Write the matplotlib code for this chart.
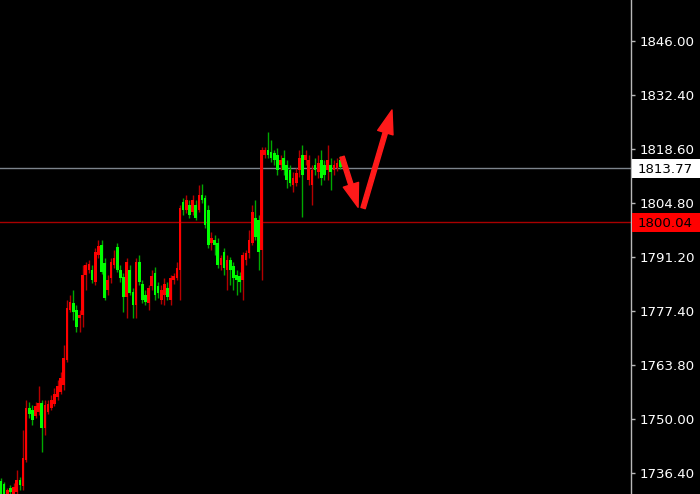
import matplotlib
matplotlib.use("Agg")
import matplotlib.pyplot as plt
from matplotlib.patches import Rectangle
from matplotlib.transforms import blended_transform_factory

# OHLC (one candle per bar, left to right)
opens = [
    1734.3, 1733.6, 1731.0, 1732.6, 1731.0, 1731.5, 1734.6, 1733.1, 1739.7, 1752.9,
    1752.3, 1750.8, 1751.8, 1754.1, 1747.8, 1751.8, 1752.9, 1753.9, 1755.6, 1756.9,
    1758.7, 1765.0, 1777.7, 1779.6, 1777.7, 1775.7, 1776.5, 1786.6, 1787.9, 1787.9,
    1784.9, 1791.7, 1794.2, 1789.7, 1782.8, 1785.9, 1789.1, 1793.7, 1787.9, 1786.1,
    1781.0, 1787.9, 1782.3, 1779.0, 1789.9, 1784.3, 1781.5, 1779.6, 1783.8, 1787.1,
    1783.8, 1780.3, 1781.5, 1783.3, 1780.3, 1785.4, 1785.9, 1787.9, 1805.1, 1803.1,
    1804.4, 1802.6, 1804.4, 1803.1, 1806.9, 1806.2, 1803.1, 1794.7, 1795.5, 1794.7,
    1789.1, 1792.5, 1787.9, 1790.4, 1788.9, 1786.6, 1786.4,
    1785.4, 1790.4, 1792.2, 1794.7, 1801.1, 1800.6, 1793.0, 1817.1, 1818.3, 1817.8,
    1817.6, 1817.1, 1814.5, 1816.3, 1814.5, 1813.3, 1809.5, 1810.0, 1813.3, 1817.1,
    1815.8, 1810.7, 1809.5, 1814.5, 1812.7, 1815.8, 1814.5, 1813.3, 1814.5, 1813.3,
    1813.8, 1815.8,
]
highs = [
    1735.1, 1734.1, 1732.6, 1733.3, 1733.8, 1737.1, 1735.3, 1747.3, 1754.9, 1754.4,
    1753.6, 1754.4, 1758.4, 1754.9, 1754.9, 1754.9, 1756.2, 1757.9, 1760.0, 1762.0,
    1768.8, 1780.3, 1781.5, 1782.8, 1779.0, 1777.7, 1789.1, 1789.9, 1790.4, 1789.1,
    1793.5, 1795.5, 1795.5, 1790.9, 1786.6, 1790.9, 1793.0, 1794.7, 1789.1, 1787.1,
    1790.9, 1789.1, 1783.3, 1790.9, 1791.7, 1785.4, 1782.8, 1784.1, 1787.9, 1788.6,
    1784.9, 1784.1, 1785.9, 1784.9, 1786.6, 1787.1, 1789.9, 1804.4, 1806.2, 1806.9,
    1805.7, 1806.9, 1805.7, 1809.5, 1809.7, 1806.9, 1804.4, 1797.5, 1796.8, 1796.0,
    1791.7, 1793.5, 1791.7, 1791.2, 1789.9, 1787.9, 1787.4,
    1792.5, 1793.0, 1798.0, 1804.4, 1805.7, 1801.8, 1819.1, 1819.1, 1822.9, 1820.9,
    1818.3, 1818.8, 1817.1, 1818.3, 1815.8, 1814.5, 1812.7, 1813.8, 1818.3, 1819.6,
    1818.3, 1817.1, 1814.5, 1816.3, 1817.1, 1818.3, 1815.8, 1819.6, 1816.3, 1815.8,
    1816.3, 1816.8,
]
lows = [
    1731.0, 1731.0, 1730.8, 1731.0, 1730.8, 1731.0, 1732.0, 1732.0, 1739.2, 1750.3,
    1748.5, 1750.3, 1751.0, 1741.7, 1746.0, 1751.3, 1752.3, 1753.4, 1754.9, 1756.4,
    1757.4, 1764.5, 1777.2, 1775.2, 1772.1, 1772.1, 1773.4, 1782.8, 1787.1, 1784.6,
    1784.1, 1790.9, 1786.9, 1780.3, 1781.5, 1784.6, 1788.4, 1787.4, 1784.9, 1777.2,
    1775.7, 1781.5, 1775.7, 1775.7, 1784.1, 1779.6, 1779.0, 1777.7, 1782.8, 1780.3,
    1780.8, 1779.3, 1779.0, 1780.3, 1779.0, 1784.3, 1785.4, 1780.3, 1801.8, 1802.3,
    1801.1, 1801.8, 1800.6, 1802.6, 1804.9, 1798.5, 1793.5, 1793.0, 1791.7, 1788.4,
    1787.9, 1786.6, 1782.8, 1784.1, 1782.8, 1781.5, 1782.3,
    1780.3, 1789.1, 1790.9, 1794.2, 1795.5, 1787.9, 1785.4, 1816.3, 1816.3, 1815.3,
    1814.5, 1812.0, 1813.3, 1812.0, 1808.7, 1809.2, 1807.7, 1809.2, 1811.5, 1801.3,
    1814.5, 1809.5, 1804.4, 1812.0, 1811.2, 1809.5, 1810.7, 1810.7, 1808.2, 1812.0,
    1813.0, 1813.5,
]
closes = [
    1731.0, 1731.0, 1732.0, 1731.5, 1732.8, 1734.6, 1733.3, 1740.2, 1752.9, 1751.3,
    1749.8, 1753.4, 1754.1, 1747.8, 1753.6, 1753.9, 1754.9, 1756.4, 1758.4, 1760.5,
    1765.5, 1778.2, 1779.8, 1777.2, 1773.4, 1776.5, 1786.6, 1789.1, 1789.4, 1785.4,
    1792.5, 1794.0, 1787.4, 1780.8, 1785.4, 1789.9, 1790.9, 1787.9, 1785.9, 1781.0,
    1789.9, 1782.0, 1779.0, 1789.9, 1784.9, 1780.3, 1779.8, 1783.3, 1786.4, 1781.5,
    1782.0, 1782.8, 1784.3, 1781.0, 1785.9, 1786.4, 1788.4, 1803.6, 1803.1, 1805.7,
    1801.8, 1805.7, 1801.1, 1806.9, 1805.7, 1799.3, 1794.2, 1796.0, 1794.2, 1789.1,
    1790.9, 1788.4, 1790.4, 1787.9, 1785.9, 1785.4, 1784.9,
    1791.7, 1792.2, 1795.5, 1802.6, 1796.3, 1792.5, 1818.3, 1818.3, 1817.1, 1816.3,
    1815.8, 1813.3, 1815.8, 1813.3, 1810.7, 1810.0, 1811.2, 1812.5, 1816.3, 1812.0,
    1817.1, 1815.8, 1813.3, 1813.3, 1815.0, 1811.2, 1812.0, 1815.8, 1812.7, 1814.5,
    1815.0, 1814.0,
]

price_ticks = [1736.40, 1750.00, 1763.80, 1777.40, 1791.20, 1804.80, 1818.60, 1832.40, 1846.00]
level_white = 1813.77
level_red = 1800.04

# hand drawn arrows: (bar index, price) start -> tip
arrow_down = ((108.6, 1816.6), (113.7, 1803.8))
arrow_up = ((115.3, 1803.6), (124.5, 1828.5))

fig = plt.figure(figsize=(7, 4.94), dpi=100, facecolor="black")
ax = fig.add_axes([0, 0, 631 / 700, 1])
ax.set_facecolor("black")

idx = list(range(len(opens)))
up = [c >= o for o, c in zip(opens, closes)]
wick_col = ["#b40000" if u else "#00a800" for u in up]
body_col = ["#ff0000" if u else "#00ff00" for u in up]

ax.vlines(idx, lows, highs, colors=wick_col, linewidth=1, zorder=2)
bottoms = [min(o, c) for o, c in zip(opens, closes)]
heights = [max(abs(c - o), 0.3) for o, c in zip(opens, closes)]
ax.bar(idx, heights, bottom=bottoms, width=0.85, color=body_col, linewidth=0, zorder=3)

ax.axhline(level_white, color="#7d848c", linewidth=1, zorder=1)
ax.axhline(level_red, color="#a80000", linewidth=1, zorder=1)

for start, tip in (arrow_down, arrow_up):
    ax.annotate("", xy=tip, xytext=start,
                arrowprops=dict(arrowstyle="simple,head_length=1.7,head_width=1.15,tail_width=0.32",
                                color="#ff1a1a", shrinkA=0, shrinkB=0, mutation_scale=10),
                zorder=4)

ax.set_xlim(-0.32, 200.6)
ax.set_ylim(1731.03, 1856.41)

for s in ("left", "top", "bottom"):
    ax.spines[s].set_visible(False)
ax.spines["right"].set_color("#b8b8b8")
ax.spines["right"].set_linewidth(1)
ax.set_xticks([])
ax.yaxis.tick_right()
ax.set_yticks(price_ticks)
ax.set_yticklabels([f"{p:.2f}" for p in price_ticks])
ax.tick_params(axis="y", colors="#b8b8b8", labelcolor="white", length=3,
               width=1, pad=3, labelsize=9.6)

# current-level boxes on the price scale
trans = blended_transform_factory(ax.transAxes, ax.transData)
box_h = 19 * (1856.41 - 1731.03) / 494
for level, face in ((level_white, "white"), (level_red, "#ff0000")):
    ax.add_patch(Rectangle((1.0015, level - box_h / 2), 0.2, box_h, transform=trans,
                           facecolor=face, edgecolor="none", clip_on=False, zorder=5))
    ax.text(1.0 + 7 / 631, level, f"{level:.2f}", transform=trans, ha="left",
            va="center_baseline", color="black", fontsize=9.6, zorder=6, clip_on=False)

fig.savefig("out.png", dpi=100, facecolor="black")
